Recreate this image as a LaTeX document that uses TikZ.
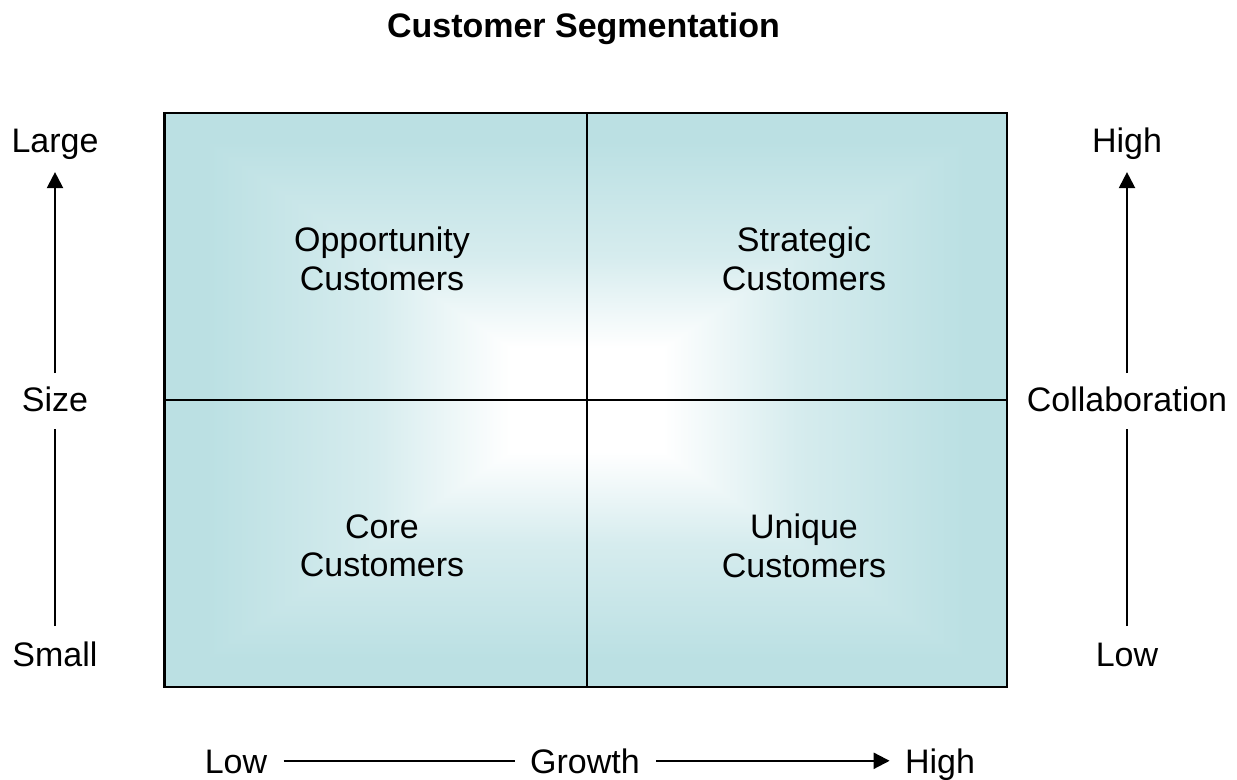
\documentclass[tikz,border=0pt]{standalone}
\usepackage{fontspec}
\setmainfont{Liberation Sans}
\usetikzlibrary{arrows.meta}
\definecolor{qteal}{RGB}{187,224,227}
\definecolor{qmid}{RGB}{214,236,238}
% horizontal: teal at left, white at right
\pgfdeclarehorizontalshading{qL}{100bp}{color(0bp)=(qteal); color(30bp)=(qteal); color(50bp)=(qmid); color(66bp)=(white); color(100bp)=(white)}
% horizontal: white at left, teal at right
\pgfdeclarehorizontalshading{qR}{100bp}{color(0bp)=(white); color(34bp)=(white); color(50bp)=(qmid); color(70bp)=(qteal); color(100bp)=(qteal)}
% vertical: white at bottom, teal at top
\pgfdeclareverticalshading{qT}{100bp}{color(0bp)=(white); color(34bp)=(white); color(50bp)=(qmid); color(70bp)=(qteal); color(100bp)=(qteal)}
% vertical: teal at bottom, white at top
\pgfdeclareverticalshading{qB}{100bp}{color(0bp)=(qteal); color(30bp)=(qteal); color(50bp)=(qmid); color(66bp)=(white); color(100bp)=(white)}
\newcommand\quadshade[9]{%
  % #1,#2 top-left; #3,#4 bottom-right; #5,#6 white corner; #7 far edge y; #8 horiz shading; #9 vert shading
  \shade[shading=#8] (#1,#2) rectangle (#3,#4);
  \begin{scope}
    \clip (#1,#7) -- (#3,#7) -- (#5,#6) -- cycle;
    \shade[shading=#9] (#1,#2) rectangle (#3,#4);
  \end{scope}%
}
\begin{document}
\begin{tikzpicture}[x=0.5pt, y=-0.5pt,
  lab/.style={font=\fontsize{17}{19.2}\selectfont, inner sep=0pt, text height=12.2pt, text depth=0pt, anchor=base},
  quadtext/.style={font=\fontsize{17}{19.2}\selectfont, align=center, inner sep=0pt},
  titletext/.style={font=\fontsize{17}{19.2}\selectfont\bfseries, inner sep=0pt, anchor=base},
  axisline/.style={line width=1.1pt},
  axisarrow/.style={line width=1.1pt, -{Triangle[length=8pt, width=8pt]}},
  gridline/.style={line width=1.3pt}]
\useasboundingbox (0,0) rectangle (1237,780);
\fill[white] (0,0) rectangle (1237,780);

% title
\node[titletext] (title) at (583.5,38) {Customer Segmentation};

% shaded quadrants (white towards the centre of the grid)
\quadshade{164.5}{113}{587}{400}{587}{400}{113}{qL}{qT}
\quadshade{587}{113}{1007}{400}{587}{400}{113}{qR}{qT}
\quadshade{164.5}{400}{587}{687}{587}{400}{687}{qL}{qB}
\quadshade{587}{400}{1007}{687}{587}{400}{687}{qR}{qB}

% grid
\draw[gridline] (164.5,113) rectangle (1007,687);
\draw[gridline] (587,113) -- (587,687);
\draw[gridline] (164.5,400) -- (1007,400);

% quadrant labels
\node[quadtext] (opp) at (382,259) {Opportunity\\Customers};
\node[quadtext] (strat) at (804,259) {Strategic\\Customers};
\node[quadtext] (core) at (382,546) {Core\\Customers};
\node[quadtext] (uniq) at (804,546) {Unique\\Customers};

% left axis
\node[lab] (large) at (55,152.7) {Large};
\node[lab] (size) at (55,412) {Size};
\node[lab] (small) at (55,666) {Small};
\draw[axisarrow, shorten <=7pt, shorten >=9.5pt] (size.north) -- (large.south);
\draw[axisline, shorten <=7.5pt, shorten >=8.5pt] (small.north) -- (size.south);

% right axis
\node[lab] (high) at (1127,152.7) {High};
\node[lab] (collab) at (1127,412) {Collaboration};
\node[lab] (low) at (1127,666) {Low};
\draw[axisarrow, shorten <=7pt, shorten >=9.5pt] (collab.north) -- (high.south);
\draw[axisline, shorten <=7.5pt, shorten >=8.5pt] (low.north) -- (collab.south);

% bottom axis
\node[lab] (glow) at (236,773) {Low};
\node[lab] (growth) at (585,773) {Growth};
\node[lab] (ghigh) at (940,773) {High};
\draw[axisline, shorten <=8pt, shorten >=7.5pt] (glow.east) -- (growth.west);
\draw[axisarrow, shorten <=8pt, shorten >=7.5pt] (growth.east) -- (ghigh.west);
\end{tikzpicture}
\end{document}
